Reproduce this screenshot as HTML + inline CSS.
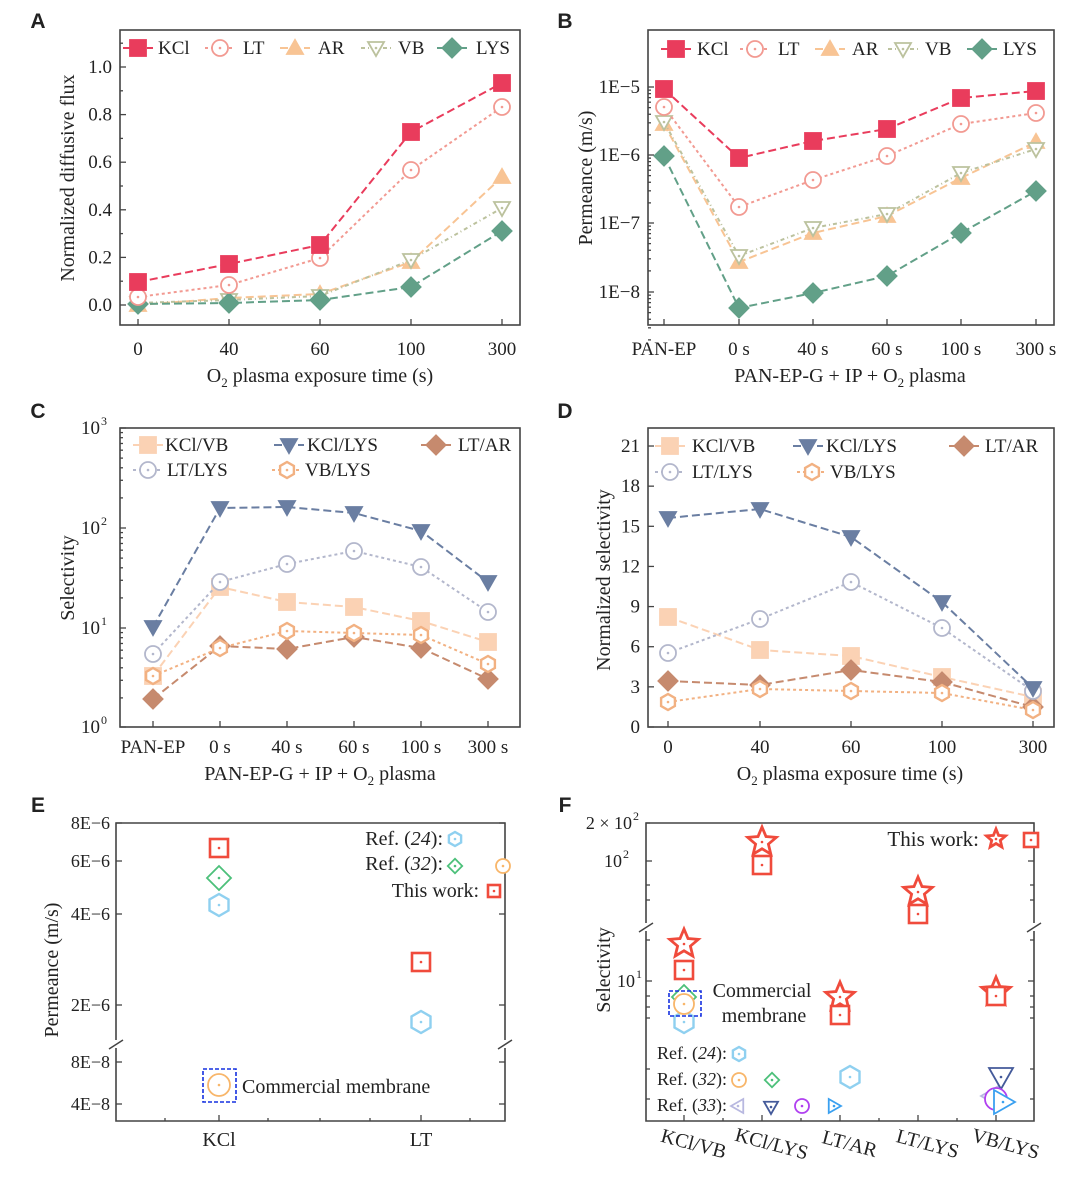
<!DOCTYPE html><html><head><meta charset="utf-8"><style>body{margin:0;background:#fff}svg{display:block}text{font-family:"Liberation Serif",serif;fill:#222}</style></head><body>
<svg id="s" width="1080" height="1187" xmlns="http://www.w3.org/2000/svg"></svg>
<script>
const S=document.getElementById('s');let h='';
function t(x,y,s,o={}){h+=`<text x="${x}" y="${y}" font-size="${o.fs||19}" text-anchor="${o.a||'middle'}" ${o.r?`transform="rotate(${o.r} ${x} ${y})"`:''} ${o.f?`fill="${o.f}"`:''} ${o.st?`font-style="italic"`:''} ${o.b?'font-weight="bold" style="font-family:Liberation Sans,sans-serif"':''}>${s}</text>`}
function frame(x1,y1,x2,y2){h+=`<rect x="${x1}" y="${y1}" width="${x2-x1}" height="${y2-y1}" fill="none" stroke="#444" stroke-width="1.6"/>`}
function tk(x,y,dx,dy){h+=`<line x1="${x}" y1="${y}" x2="${x+dx}" y2="${y+dy}" stroke="#444" stroke-width="1.3"/>`}
function mk(type,x,y,c,r=8,fill=false){let f=fill?c:'#fff',sw=1.8,d='';
if(type=='sq')d=`<rect x="${x-r}" y="${y-r}" width="${2*r}" height="${2*r}" fill="${f}" stroke="${c}" stroke-width="${fill?sw:2.6}"/>`;
else if(type=='ci')d=`<circle cx="${x}" cy="${y}" r="${r}" fill="${f}" stroke="${c}" stroke-width="${sw}"/>`;
else if(type=='tu')d=`<polygon points="${x},${y-r} ${x+r},${y+r*.75} ${x-r},${y+r*.75}" fill="${f}" stroke="${c}" stroke-width="${sw}"/>`;
else if(type=='td')d=`<polygon points="${x},${y+r} ${x+r},${y-r*.75} ${x-r},${y-r*.75}" fill="${f}" stroke="${c}" stroke-width="${sw}"/>`;
else if(type=='tl')d=`<polygon points="${x-r},${y} ${x+r*.75},${y-r} ${x+r*.75},${y+r}" fill="${f}" stroke="${c}" stroke-width="${sw}"/>`;
else if(type=='tr')d=`<polygon points="${x+r},${y} ${x-r*.75},${y-r} ${x-r*.75},${y+r}" fill="${f}" stroke="${c}" stroke-width="${sw}"/>`;
else if(type=='di')d=`<polygon points="${x},${y-r*1.2} ${x+r*1.2},${y} ${x},${y+r*1.2} ${x-r*1.2},${y}" fill="${f}" stroke="${c}" stroke-width="${sw}"/>`;
else if(type=='hx'){let p=[];for(let i=0;i<6;i++){let a=Math.PI/3*i+Math.PI/6;p.push((x+r*Math.cos(a)).toFixed(1)+','+(y+r*Math.sin(a)).toFixed(1))}d=`<polygon points="${p.join(' ')}" fill="${f}" stroke="${c}" stroke-width="${sw+0.6}"/>`}
else if(type=='st'){let p=[];for(let i=0;i<10;i++){let a=-Math.PI/2+Math.PI/5*i,rr=i%2?r*.45:r;p.push((x+rr*Math.cos(a)).toFixed(1)+','+(y+rr*Math.sin(a)).toFixed(1))}d=`<polygon points="${p.join(' ')}" fill="#fff" stroke="${c}" stroke-width="2.8"/>`}
if(!fill)d+=`<circle cx="${x}" cy="${y}" r="1.3" fill="${c}"/>`;h+=d}
function ser(xs,ys,c,type,fill,dash,r=8){h+=`<polyline points="${xs.map((x,i)=>x+','+ys[i]).join(' ')}" fill="none" stroke="${c}" stroke-width="2" stroke-dasharray="${dash}"/>`;xs.forEach((x,i)=>mk(type,x,ys[i],c,r,fill))}
function leg(x,y,c,type,fill,dash,lab,tx){h+=`<line x1="${x-15}" y1="${y}" x2="${x+15}" y2="${y}" stroke="${c}" stroke-width="2" stroke-dasharray="${dash}"/>`;mk(type,x,y,c,8,fill);t(tx,y+6,lab,{a:'start'})}
// A
frame(120,30,520,325);const ax=[138,229,320,411,502];
ax.forEach((x,i)=>{tk(x,325,0,-6);t(x,355,[0,40,60,100,300][i])});
[0,.2,.4,.6,.8,1].forEach(v=>{let y=305-v*238;tk(120,y,6,0);tk(120,y-23.8,3,0);t(112,y+6,v.toFixed(1),{a:'end'})});
const cA={K:'#e93c5c',L:'#f29a92',A:'#f8c494',V:'#bcc29e',Y:'#62a088'};
ser(ax,[305,298,294,262,177],cA.A,'tu',true,'8 4');
ser(ax,[303,300,296,260,208],cA.V,'td',false,'4 3 1 3');
ser(ax,[304,303,300,287,231],cA.Y,'di',true,'8 4');
ser(ax,[297,285,258,170,107],cA.L,'ci',false,'3 3');
ser(ax,[282,264,245,132,83],cA.K,'sq',true,'8 4');
leg(138,48,cA.K,'sq',true,'8 4','KCl',158);leg(220,48,cA.L,'ci',false,'3 3','LT',243);leg(295,48,cA.A,'tu',true,'8 4','AR',318);leg(376,48,cA.V,'td',false,'4 3 1 3','VB',398);leg(452,48,cA.Y,'di',true,'8 4','LYS',476);
t(74,178,'Normalized diffusive flux',{r:-90,fs:20});t(320,382,'O<tspan font-size="13" dy="5">2</tspan><tspan dy="-5"> plasma exposure time (s)</tspan>',{fs:20});
// B
frame(648,30,1054,325);const bx=[664,739,813,887,961,1036];
bx.forEach((x,i)=>{tk(x,325,0,-6);t(x,355,['PAN-EP','0 s','40 s','60 s','100 s','300 s'][i])});
[[87,'1E−5'],[155,'1E−6'],[223,'1E−7'],[292,'1E−8']].forEach(([y,l])=>{tk(648,y,6,0);for(let k=2;k<10;k++)tk(648,y+68.5-68.5*Math.log10(k),3,0);t(640,y+6,l,{a:'end'})});
ser(bx,[124,262,233,216,178,142],cA.A,'tu',true,'8 4');
ser(bx,[122,256,228,214,173,149],cA.V,'td',false,'4 3 1 3');
ser(bx,[156,308,293,276,233,191],cA.Y,'di',true,'8 4');
ser(bx,[107,207,180,156,124,113],cA.L,'ci',false,'3 3');
ser(bx,[89,158,141,129,98,91],cA.K,'sq',true,'8 4');
leg(676,49,cA.K,'sq',true,'8 4','KCl',697);leg(755,49,cA.L,'ci',false,'3 3','LT',778);leg(830,49,cA.A,'tu',true,'8 4','AR',852);leg(903,49,cA.V,'td',false,'4 3 1 3','VB',925);leg(982,49,cA.Y,'di',true,'8 4','LYS',1003);
t(592,178,'Permeance (m/s)',{r:-90,fs:20});t(850,382,'PAN-EP-G + IP + O<tspan font-size="13" dy="5">2</tspan><tspan dy="-5"> plasma</tspan>',{fs:20});
// C
frame(120,428,520,727);const cx=[153,220,287,354,421,488];
cx.forEach((x,i)=>{tk(x,727,0,-6);t(x,753,['PAN-EP','0 s','40 s','60 s','100 s','300 s'][i])});
[[428,3],[528,2],[628,1],[727,0]].forEach(([y,e])=>{tk(120,y,6,0);if(e)for(let k=2;k<10;k++)tk(120,y+100-100*Math.log10(k),3,0);t(100,y+6,'10',{a:'end'});t(101,y-3,e,{a:'start',fs:12})});
const cC={a:'#fbd2b4',b:'#6a7ea2',c:'#c68a6e',d:'#b3b7cc',e:'#f2b182'};
ser(cx,[676,587,602,607,621,642],cC.a,'sq',true,'8 4');
ser(cx,[699,646,649,637,648,679],cC.c,'di',true,'8 4');
ser(cx,[676,648,631,633,635,664],cC.e,'hx',false,'3 3');
ser(cx,[654,582,564,551,567,612],cC.d,'ci',false,'3 3');
ser(cx,[627,508,507,513,531,582],cC.b,'td',true,'8 4');
leg(148,445,cC.a,'sq',true,'8 4','KCl/VB',165);leg(289,445,cC.b,'td',true,'8 4','KCl/LYS',307);leg(436,445,cC.c,'di',true,'8 4','LT/AR',458);leg(148,470,cC.d,'ci',false,'3 3','LT/LYS',167);leg(287,470,cC.e,'hx',false,'3 3','VB/LYS',305);
t(74,578,'Selectivity',{r:-90,fs:20});t(320,780,'PAN-EP-G + IP + O<tspan font-size="13" dy="5">2</tspan><tspan dy="-5"> plasma</tspan>',{fs:20});
// D
frame(648,428,1054,727);const dx=[668,760,851,942,1033];
dx.forEach((x,i)=>{tk(x,727,0,-6);t(x,753,[0,40,60,100,300][i])});
[0,3,6,9,12,15,18,21].forEach(v=>{let y=727-v*13.38;tk(648,y,6,0);t(640,y+6,v,{a:'end'})});
ser(dx,[617,650,656,677,697],cC.a,'sq',true,'8 4');
ser(dx,[681,685,670,682,707],cC.c,'di',true,'8 4');
ser(dx,[702,689,691,693,710],cC.e,'hx',false,'3 3');
ser(dx,[653,619,582,628,691],cC.d,'ci',false,'3 3');
ser(dx,[518,509,537,602,688],cC.b,'td',true,'8 4');
leg(670,446,cC.a,'sq',true,'8 4','KCl/VB',692);leg(808,446,cC.b,'td',true,'8 4','KCl/LYS',826);leg(964,446,cC.c,'di',true,'8 4','LT/AR',985);leg(670,472,cC.d,'ci',false,'3 3','LT/LYS',692);leg(812,472,cC.e,'hx',false,'3 3','VB/LYS',830);
t(610,580,'Normalized selectivity',{r:-90,fs:20});t(850,780,'O<tspan font-size="13" dy="5">2</tspan><tspan dy="-5"> plasma exposure time (s)</tspan>',{fs:20});
// E
h+=`<path d="M116,823 H505 V1121 H116 Z" fill="none" stroke="#444" stroke-width="1.6"/><rect x="110" y="1040" width="400" height="8" fill="#fff"/><line x1="109" y1="1049" x2="123" y2="1040" stroke="#444" stroke-width="1.5"/><line x1="498" y1="1049" x2="512" y2="1040" stroke="#444" stroke-width="1.5"/>`;
[[823,'8E−6'],[861,'6E−6'],[914,'4E−6'],[1005,'2E−6'],[1062,'8E−8'],[1104,'4E−8']].forEach(([y,l])=>{tk(116,y,6,0);tk(505,y,-6,0);t(110,y+6,l,{a:'end',fs:18})});
[219,421].forEach((x,i)=>{tk(x,1121,0,-6);t(x,1146,['KCl','LT'][i],{fs:20})});[165,268,320,370,470].forEach(x=>tk(x,1121,0,-3));
const R='#f04b3c',B='#8fd0f0',G='#4cc07a',O='#f8b66a';
mk('sq',219,848,R,9);mk('di',219,878,G,10);mk('hx',219,905,B,11);mk('sq',421,962,R,9);mk('hx',421,1022,B,11);
mk('ci',219,1085,O,11);h+=`<rect x="203" y="1069" width="33" height="33" fill="none" stroke="#1530e0" stroke-width="1.6" stroke-dasharray="4 2"/>`;
t(242,1093,'Commercial membrane',{a:'start',fs:20});
t(443,845,'Ref. (<tspan font-style="italic">24</tspan>):',{a:'end',fs:20});mk('hx',455,839,B,7);
t(443,870,'Ref. (<tspan font-style="italic">32</tspan>):',{a:'end',fs:20});mk('di',455,866,G,6);mk('ci',503,866,O,7);
t(479,897,'This work:',{a:'end',fs:20,f:'#ee2020'});mk('sq',494,891,R,6);
t(58,970,'Permeance (m/s)',{r:-90,fs:20});
// F
h+=`<path d="M646,823 H1034 V1121 H646 Z" fill="none" stroke="#444" stroke-width="1.6"/><rect x="640" y="923" width="400" height="8" fill="#fff"/><line x1="639" y1="932" x2="653" y2="923" stroke="#444" stroke-width="1.5"/><line x1="1027" y1="932" x2="1041" y2="923" stroke="#444" stroke-width="1.5"/>`;
[[861],[981]].forEach(([y])=>{tk(646,y,6,0);tk(1034,y,-6,0)});[823,885,900,940,996,1007,1018,1069,1099].forEach(y=>{tk(646,y,4,0);tk(1034,y,-4,0)});
t(632,829,'2 × 10',{a:'end',fs:18});t(633,820,'2',{a:'start',fs:12});t(622,867,'10',{a:'end',fs:18});t(623,858,'2',{a:'start',fs:12});t(635,987,'10',{a:'end',fs:18});t(636,978,'1',{a:'start',fs:12});
const fx=[684,762,840,918,996];fx.forEach(x=>tk(x,1121,0,-6));[723,801,879,957].forEach(x=>tk(x,1121,0,-3));
['KCl/VB','KCl/LYS','LT/AR','LT/LYS','VB/LYS'].forEach((l,i)=>t(fx[i]+8,1150,l,{r:15,fs:20}));
mk('st',684,944,R,15);mk('sq',684,970,R,9);mk('di',684,997,G,10);mk('hx',684,1022,B,11);mk('ci',684,1004,O,10);
h+=`<rect x="669" y="991" width="32" height="25" fill="none" stroke="#1530e0" stroke-width="1.6" stroke-dasharray="4 2"/>`;
t(762,997,'Commercial',{fs:20});t(764,1022,'membrane',{fs:20});
mk('st',762,842,R,15);mk('sq',762,865,R,9);mk('st',840,997,R,15);mk('sq',840,1015,R,9);mk('hx',850,1077,B,11);
mk('st',918,892,R,15);mk('sq',918,914,R,9);mk('st',996,992,R,15);mk('sq',996,996,R,9);
mk('tl',991,1096,'#b8b8e0',10);mk('td',1001,1077,'#445a9a',12);mk('ci',996,1099,'#b040f0',11);mk('tr',1003,1102,'#3aa0f0',12);
t(979,846,'This work:',{a:'end',fs:21});mk('st',996,839,R,10);mk('sq',1031,840,R,7);
t(727,1059,'Ref.  (<tspan font-style="italic">24</tspan>):',{a:'end',fs:18});mk('hx',739,1054,B,7);
t(727,1085,'Ref.  (<tspan font-style="italic">32</tspan>):',{a:'end',fs:18});mk('ci',739,1080,O,7);mk('di',772,1080,G,6);
t(727,1111,'Ref.  (<tspan font-style="italic">33</tspan>):',{a:'end',fs:18});mk('tl',738,1106,'#b8b8e0',7);mk('td',771,1107,'#445a9a',7);mk('ci',802,1106,'#b040f0',7);mk('tr',834,1106,'#3aa0f0',7);
t(610,970,'Selectivity',{r:-90,fs:20});
// letters
[[38,28,'A'],[565,28,'B'],[38,418,'C'],[565,418,'D'],[38,812,'E'],[565,812,'F']].forEach(([x,y,l])=>t(x,y,l,{b:1,fs:21}));
S.innerHTML=h;
</script></body></html>
